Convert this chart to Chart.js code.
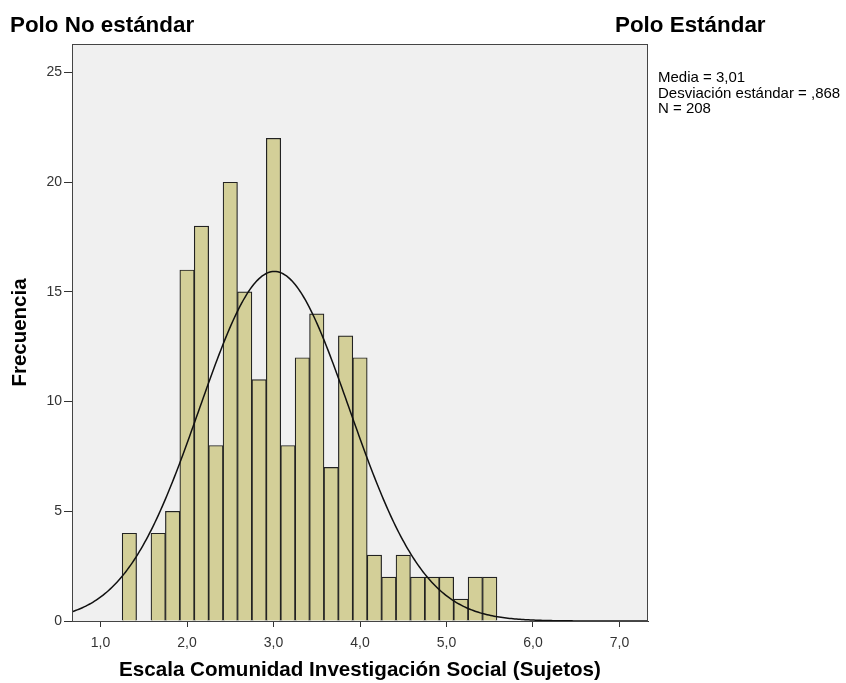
<!DOCTYPE html>
<html>
<head>
<meta charset="utf-8">
<script src="https://cdn.jsdelivr.net/npm/chart.js@4.4.1/dist/chart.umd.min.js"></script>
<style>
  html, body { margin: 0; padding: 0; background: #fff; }
  canvas { display: block; }
</style>
</head>
<body>
<canvas id="histChart" width="846" height="683"></canvas>
<script>
// histogram bins (width 1/6, first bin starts at 1.25)
var binStart = 1.25;
var binWidth = 1 / 6;
var counts = [4, 0, 4, 5, 16, 18, 8, 20, 15, 11, 22, 8, 12, 14, 7, 13, 12, 3, 2, 3, 2, 2, 2, 1, 2, 2];

// summary shown at the right of the chart
var mean = 3.01;
var sd = 0.868;
var n = 208;
var statsLines = ['Media = 3,01', 'Desviación estándar = ,868', 'N = 208'];

var xTicks = [1, 2, 3, 4, 5, 6, 7];
var yTicks = [0, 5, 10, 15, 20, 25];

var FONT = '"Liberation Sans", Arial, sans-serif';

var barData = counts.map(function (c, i) {
    return { x: binStart + binWidth * (i + 0.5), y: c };
});

// fitted normal curve, scaled to the histogram
var curveData = [];
for (var x = 0.67; x <= 7.33; x += 0.02) {
    var z = (x - mean) / sd;
    curveData.push({ x: x, y: n * binWidth * Math.exp(-0.5 * z * z) / (sd * Math.sqrt(2 * Math.PI)) });
}

var frame = {
    id: 'frame',
    beforeDraw: function (chart) {
        var a = chart.chartArea, ctx = chart.ctx;
        ctx.save();
        ctx.fillStyle = '#f0f0f0';
        ctx.fillRect(a.left, a.top, a.right - a.left, a.bottom - a.top);
        ctx.restore();
    },
    afterDraw: function (chart) {
        var a = chart.chartArea, ctx = chart.ctx;
        ctx.save();
        ctx.strokeStyle = '#444';
        ctx.lineWidth = 1;
        ctx.strokeRect(a.left + 0.5, a.top + 0.5, a.right - a.left - 1, a.bottom - a.top);

        ctx.fillStyle = '#000';
        ctx.textBaseline = 'alphabetic';
        ctx.font = 'bold 22.4px ' + FONT;
        ctx.textAlign = 'left';
        ctx.fillText('Polo No estándar', 10, 32);
        ctx.fillText('Polo Estándar', 615, 32);

        ctx.font = '15px ' + FONT;
        statsLines.forEach(function (t, i) {
            ctx.fillText(t, a.right + 10, 82 + i * 15.5);
        });
        ctx.restore();
    }
};

new Chart(document.getElementById('histChart'), {
    type: 'bar',
    data: {
        datasets: [{
            type: 'line',
            data: curveData,
            borderColor: '#111',
            borderWidth: 1.5,
            pointRadius: 0,
            fill: false,
            tension: 0,
            order: 0
        }, {
            type: 'bar',
            data: barData,
            backgroundColor: '#d3cf98',
            borderColor: '#222',
            borderWidth: 1.2,
            barPercentage: 1,
            categoryPercentage: 1,
            grouped: false,
            order: 1
        }]
    },
    options: {
        responsive: false,
        animation: false,
        layout: { padding: { left: 0, top: 44, right: 198, bottom: 0 } },
        plugins: {
            legend: { display: false },
            tooltip: { enabled: false }
        },
        scales: {
            x: {
                type: 'linear',
                min: 0.67,
                max: 7.33,
                offset: false,
                afterBuildTicks: function (scale) {
                    scale.ticks = xTicks.map(function (v) { return { value: v }; });
                },
                afterFit: function (scale) { scale.height = 62; },
                grid: { drawOnChartArea: false, drawTicks: true, tickLength: 6, color: '#333', offset: false },
                border: { display: true, color: '#333' },
                ticks: {
                    autoSkip: false,
                    maxRotation: 0,
                    padding: 8,
                    color: '#333',
                    font: { family: FONT, size: 14 },
                    callback: function (v) { return v.toFixed(1).replace('.', ','); }
                },
                title: {
                    display: true,
                    text: 'Escala Comunidad Investigación Social (Sujetos)',
                    color: '#000',
                    font: { family: FONT, size: 20.6, weight: 'bold' },
                    padding: { top: 0, bottom: 0 }
                }
            },
            y: {
                min: 0,
                max: 26.3,
                afterBuildTicks: function (scale) {
                    scale.ticks = yTicks.map(function (v) { return { value: v }; });
                },
                afterFit: function (scale) { scale.width = 72; },
                grid: { drawOnChartArea: false, drawTicks: true, tickLength: 8, color: '#333' },
                border: { display: true, color: '#333' },
                ticks: {
                    padding: 2,
                    color: '#333',
                    font: { family: FONT, size: 14 }
                },
                title: {
                    display: true,
                    text: 'Frecuencia',
                    color: '#000',
                    font: { family: FONT, size: 20.5, weight: 'bold' },
                    padding: { top: 8, bottom: 0 }
                }
            }
        }
    },
    plugins: [frame]
});
</script>
</body>
</html>
